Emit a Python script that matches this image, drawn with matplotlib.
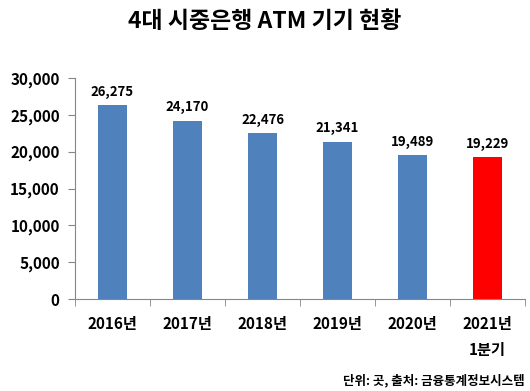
import matplotlib.pyplot as plt
import numpy as np

plt.rcParams['font.family'] = ['Noto Sans CJK KR', 'DejaVu Sans']

# data
years = ['2016년', '2017년', '2018년', '2019년', '2020년', '2021년\n1분기']
atm = [26275, 24170, 22476, 21341, 19489, 19229]
colors = ['#4F81BD'] * 5 + ['#FF0000']

fig = plt.figure(figsize=(5.30, 3.91), dpi=100)
ax = fig.add_axes([75 / 530, 1 - 299 / 391, 450 / 530, 221 / 391])

x = np.arange(len(years))
ax.bar(x, atm, width=0.39, color=colors)
for xi, v in zip(x, atm):
    ax.text(xi, v + 900, f'{v:,}', ha='center', va='bottom', fontsize=9.5, fontweight='bold')

ax.set_xlim(-0.5, len(years) - 0.5)
ax.set_ylim(0, 30000)
ax.set_yticks(range(0, 30001, 5000))
ax.set_yticklabels([f'{t:,}' for t in range(0, 30001, 5000)], fontsize=11, fontweight='bold')
ax.set_xticks(x)
ax.set_xticklabels(years, fontsize=11, fontweight='bold', linespacing=1.8, va='top')
ax.set_xticks(np.arange(-0.5, len(years)), minor=True)
ax.tick_params(axis='x', which='major', length=0, pad=12)
ax.tick_params(axis='x', which='minor', length=5, color='#868686')
ax.tick_params(axis='y', length=5, color='#868686', pad=6)

for s in ['top', 'right']:
    ax.spines[s].set_visible(False)
for s in ['left', 'bottom']:
    ax.spines[s].set_color('#868686')

fig.text(0.5, 0.944, '4대 시중은행 ATM 기기 현황', ha='center', va='center',
         fontsize=16.5, fontweight='bold')
fig.text(0.99, 0.026, '단위: 곳, 출처: 금융통계정보시스템', ha='right', va='center',
         fontsize=9, fontweight='bold')

fig.savefig('out.png', dpi=100)
